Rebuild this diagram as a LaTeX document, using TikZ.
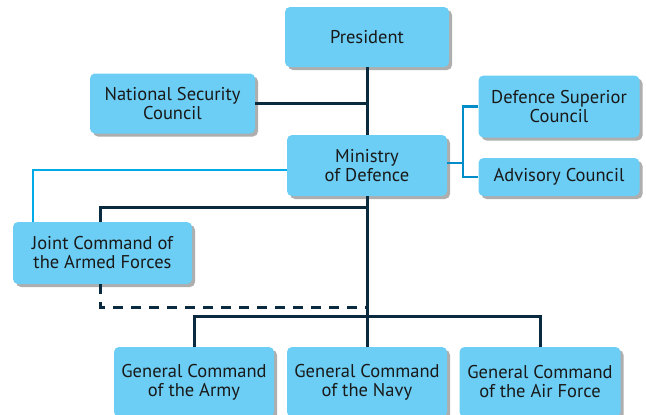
\documentclass[tikz,border=0pt]{standalone}
\usepackage{fontspec}
\setmainfont{PT Sans}
\usetikzlibrary{shadows}
\definecolor{boxblue}{RGB}{108,206,245}
\definecolor{darkline}{RGB}{10,42,64}
\definecolor{lightline}{RGB}{0,170,230}
\definecolor{midline}{RGB}{0,140,200}
\begin{document}
\begin{tikzpicture}[x=1pt, y=-1pt,
  unit/.style={fill=boxblue, rounded corners=5pt, align=center, inner sep=0pt,
    font=\fontsize{18.5}{19}\selectfont, text=black!90,
    drop shadow={shadow xshift=3pt, shadow yshift=-3pt, opacity=.45, fill=black!70}},
  darkln/.style={draw=darkline, line width=3pt},
  blueln/.style={draw=lightline, line width=2pt},
  brackln/.style={draw=midline, line width=2.2pt}]
\useasboundingbox (0,0) rectangle (646,415);
\node[unit, minimum width=164, minimum height=60] (pres) at (367,37) {President};
\node[unit, minimum width=165, minimum height=60] (nsc) at (172.5,103.5) {National Security\\Council};
\node[unit, minimum width=160, minimum height=61] (mod) at (367,165.5) {Ministry\\of Defence};
\node[unit, minimum width=161, minimum height=62] (dsc) at (559,106.5) {Defence Superior\\Council};
\node[unit, minimum width=161, minimum height=38] (adv) at (559,177) {Advisory Council};
\node[unit, minimum width=179, minimum height=62] (jcaf) at (102.5,253) {Joint Command of\\the Armed Forces};
\node[unit, minimum width=160, minimum height=70] (army) at (194,382) {General Command\\of the Army};
\node[unit, minimum width=160, minimum height=70] (navy) at (367,382) {General Command\\of the Navy};
\node[unit, minimum width=161, minimum height=70] (airf) at (540,382) {General Command\\of the Air Force};
\coordinate (brk) at (463,163);
\coordinate (jtop) at (367,207);
\coordinate (jdash) at (367,307);
% links
\draw[darkln] (pres) -- (mod);
\draw[darkln] (nsc.east) -- (nsc.east -| pres.south);
\draw[brackln] (mod.east |- brk) -- (brk);
\draw[brackln] (dsc.west) -| (brk) |- (adv.west);
\draw[blueln] ([yshift=-4]mod.west) -| ([xshift=-69.5]jcaf.north);
\draw[darkln] (mod) -- (navy);
\draw[darkln] ([xshift=-2.5]jcaf.north) |- (jtop);
\draw[darkln, dash pattern=on 10pt off 8pt] ([xshift=-2.5]jcaf.south) |- (jdash);
\draw[darkln] (army.north) -- ++(0,-30) -| (airf.north);
\end{tikzpicture}
\end{document}
